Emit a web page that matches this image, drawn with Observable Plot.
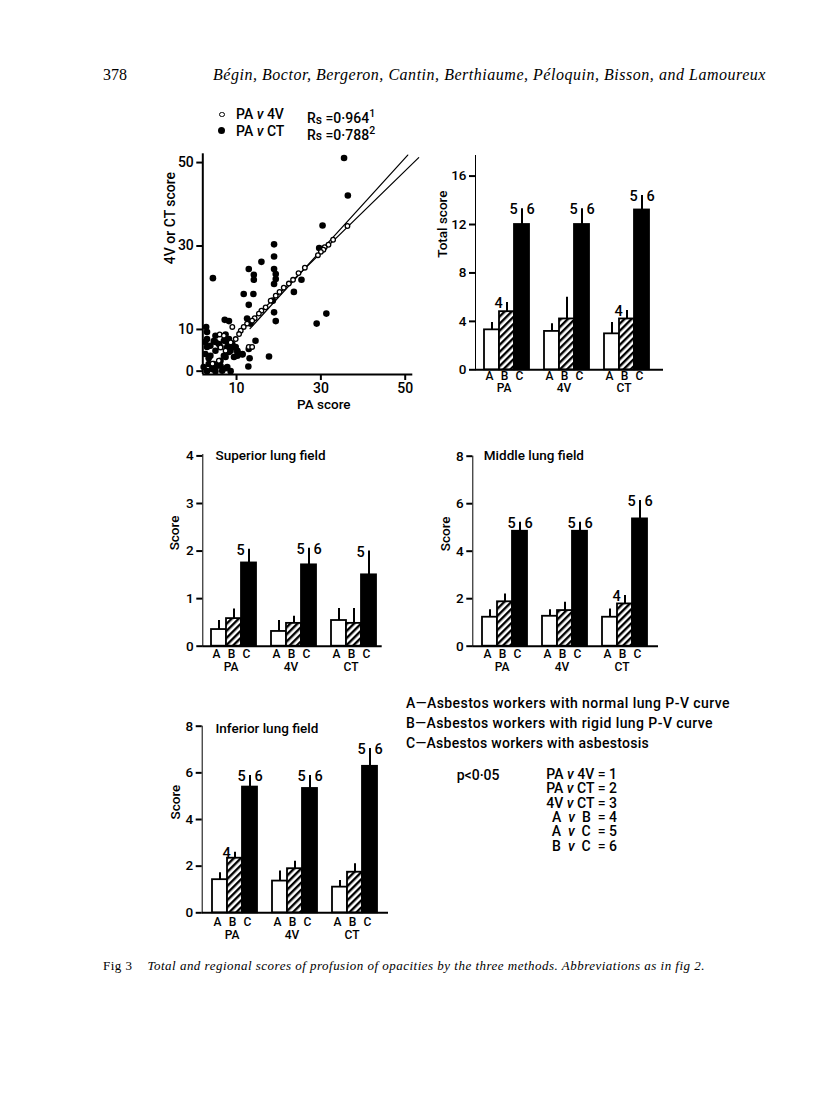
<!DOCTYPE html>
<html><head><meta charset="utf-8">
<script src="https://cdn.jsdelivr.net/npm/d3@7"></script>
<script src="https://cdn.jsdelivr.net/npm/@observablehq/plot@0.6"></script>
<style>
html,body{margin:0;padding:0;background:#fff;}
#fig{position:relative;width:816px;height:1107px;background:#fff;overflow:hidden;font-family:Roboto,"Liberation Sans",Arial,sans-serif;font-weight:500;color:#000;}
.abs{position:absolute;white-space:nowrap;}
.panel{position:absolute;}
.panel svg{overflow:visible;}
.panel g[aria-label^="x-axis"] line,.panel g[aria-label^="x-axis"] path,.panel g[aria-label^="y-axis"] line,.panel g[aria-label^="y-axis"] path{stroke-width:2px;}
.serif{font-family:"Liberation Serif","Times New Roman",serif;font-weight:normal;}
.sym{display:inline-block;position:absolute;border-radius:50%;box-sizing:border-box;}
.leg{font-size:14px;line-height:16px;}
</style></head><body>
<svg width="0" height="0" style="position:absolute">
  <defs>
    <pattern id="hatch" patternUnits="userSpaceOnUse" width="5" height="5" patternTransform="rotate(45)">
      <rect width="5" height="5" fill="white"></rect>
      <rect width="2.4" height="5" fill="black"></rect>
    </pattern>
  </defs>
</svg>
<div id="fig">
  <div class="abs serif" style="left:103px;top:67px;font-size:16px;line-height:16px;">378</div>
  <div class="abs serif" id="authors" style="left:213px;top:67px;font-size:16px;line-height:16px;font-style:italic;">Bégin, Boctor, Bergeron, Cantin, Berthiaume, Péloquin, Bisson, and Lamoureux</div>

  <div class="abs leg" style="left:0;top:106px;width:400px;height:16px;">
    <span class="sym" style="left:219px;top:5.5px;width:5.5px;height:5.5px;border:1.4px solid #000;"></span>
    <span class="abs" style="left:236px;">PA <i>v</i> 4V</span>
    <span class="abs" style="left:307px;">R<span style="font-size:12px;position:relative;top:1px;">s</span> =0·964<sup style="font-size:10.5px;">1</sup></span>
  </div>
  <div class="abs leg" style="left:0;top:122.7px;width:400px;height:16px;">
    <span class="sym" style="left:218px;top:4.5px;width:7px;height:7px;background:#000;"></span>
    <span class="abs" style="left:236px;">PA <i>v</i> CT</span>
    <span class="abs" style="left:307px;">R<span style="font-size:12px;position:relative;top:1px;">s</span> =0·788<sup style="font-size:10.5px;">2</sup></span>
  </div>

  <div class="abs leg" id="legA" style="left:406px;top:695.3px;">A—Asbestos workers with normal lung P-V curve</div>
  <div class="abs leg" id="legB" style="left:406px;top:715.3px;">B—Asbestos workers with rigid lung P-V curve</div>
  <div class="abs leg" id="legC" style="left:406px;top:735.3px;">C—Asbestos workers with asbestosis</div>

  <div class="abs leg" style="left:456.7px;top:767px;">p&lt;0·05</div>
  <div class="abs leg" style="left:480px;top:767px;width:137px;text-align:right;line-height:14.35px;">
    PA <i>v</i> 4V = 1<br>PA <i>v</i> CT = 2<br>4V <i>v</i> CT = 3<br>A&nbsp; <i>v</i>&nbsp; B&nbsp; = 4<br>A&nbsp; <i>v</i>&nbsp; C&nbsp; = 5<br>B&nbsp; <i>v</i>&nbsp; C&nbsp; = 6
  </div>

  <div class="abs serif" id="caption" style="left:103px;top:959px;font-size:13px;line-height:14px;">Fig 3&nbsp;&nbsp;&nbsp; <i>Total and regional scores of profusion of opacities by the three methods. Abbreviations as in fig 2.</i></div>
</div>
<script>
// ---------- data ----------
const methods = ["PA", "4V", "CT"];
const groups = ["A", "B", "C"];

// Scatter: PA score (x) vs 4V score (open circles) and vs CT score (filled)
const paVs4V = [[36.3,34.8],[32.9,31.5],[31.8,30.3],[30.9,29.7],[30.6,29.1],[30.0,28.6],[29.3,27.8],[26.2,24.8],[24.7,23.5],[23.4,21.9],[22.4,21.0],[21.2,20.0],[20.2,19.0],[19.3,18.1],[18.1,16.9],[16.9,15.3],[15.9,14.5],[15.3,13.8],[14.3,12.7],[13.7,12.1],[12.5,11.4],[11.7,10.6],[11.0,9.7],[10.6,8.9],[9.8,7.7],[9.0,10.6],[6.0,8.8],[7.0,8.5],[12.9,5.8],[13.7,5.8],[8.6,6.9],[7.4,4.9],[5.8,2.5],[4.3,1.8],[6.2,5.7]];
const paVsCT = [[35.5,51.1],[36.4,42.1],[30.4,34.9],[29.6,29.5],[18.9,30.4],[18.9,27.5],[15.9,26.2],[12.9,24.5],[14.1,23.1],[14.1,21.9],[18.9,24.5],[19.3,23.3],[19.3,22.1],[18.9,20.9],[4.4,22.3],[25.4,21.9],[23.6,19.0],[11.7,18.5],[14.0,18.5],[12.9,15.9],[18.6,16.9],[18.9,14.1],[19.3,12.0],[31.3,13.8],[29.0,11.4],[7.2,12.3],[8.2,12.0],[12.5,12.6],[13.3,11.4],[14.5,7.3],[12.9,5.3],[13.1,3.1],[17.7,3.5],[12.8,1.1],[2.8,10.6],[3.0,9.4],[2.6,7.0],[3.0,7.7],[3.0,5.8],[2.6,4.1],[3.8,3.7],[5.0,4.9],[5.8,6.5],[7.0,7.3],[7.8,5.8],[8.2,7.7],[9.0,6.5],[8.6,4.9],[9.8,5.8],[10.2,4.6],[11.4,4.1],[7.4,8.8],[5.0,8.5],[4.6,7.2],[3.4,1.7],[4.2,0.5],[5.4,1.3],[6.6,0.1],[7.8,1.0],[3.0,0],[2.2,1.0],[5.0,0],[8.6,0],[6.2,2.5],[7.4,3.4],[9.4,3.4],[3.8,6.1],[5.0,7.0],[6.2,5.8],[7.8,7.0],[9.0,5.8],[10.2,4.9],[8.2,4.6],[7.0,3.7],[10.2,3.7],[11.4,4.0],[4.6,1.7],[6.2,1.3],[7.4,0.7],[3.4,3.1]];
const fitLine4V = [[13.2,10.2],[50.6,51.8]];
const fitLineCT = [[11.6,10.2],[53.2,51.2]];
const scatterXTicks = [10, 30, 50];
const scatterYTicks = [0, 10, 30, 50];

// Bar panels: rows = PA, 4V, CT ; columns = A, B, C (mean and top of error bar)
const totalMean = [[3.3,4.8,12.0],[3.17,4.2,12.0],[2.97,4.2,13.2]];
const totalErr  = [[3.9,5.55,13.3],[3.8,6.0,13.3],[3.9,4.9,14.4]];
const totalSig  = [["PA","B","4",""],["PA","C","5","6"],["4V","C","5","6"],["CT","B","4",""],["CT","C","5","6"]];
const totalTicks = [0,4,8,12,16];

const superiorMean = [[0.35,0.58,1.75],[0.31,0.48,1.71],[0.54,0.48,1.5]];
const superiorErr  = [[0.54,0.78,2.04],[0.54,0.63,2.06],[0.79,0.79,2.0]];
const superiorSig  = [["PA","C","5",""],["4V","C","5","6"],["CT","C","5",""]];
const superiorTicks = [0,1,2,3,4];

const middleMean = [[1.22,1.87,4.84],[1.26,1.5,4.84],[1.22,1.78,5.36]];
const middleErr  = [[1.53,2.2,5.22],[1.53,1.85,5.22],[1.57,2.13,6.13]];
const middleSig  = [["PA","C","5","6"],["4V","C","5","6"],["CT","B","4",""],["CT","C","5","6"]];
const middleTicks = [0,2,4,6,8];

const inferiorMean = [[1.42,2.34,5.39],[1.36,1.89,5.33],[1.1,1.74,6.28]];
const inferiorErr  = [[1.72,2.6,5.89],[1.79,2.21,5.89],[1.39,2.1,7.04]];
const inferiorSig  = [["PA","B","4",""],["PA","C","5","6"],["4V","C","5","6"],["CT","C","5","6"]];
const inferiorTicks = [0,2,4,6,8];

// ---------- drawing ----------
const FONT = 'Roboto, "Liberation Sans", Arial, sans-serif';
const fig = document.getElementById("fig");
function place(node, left, top) {
  const d = document.createElement("div");
  d.className = "panel";
  d.style.left = left + "px";
  d.style.top = top + "px";
  d.appendChild(node);
  fig.appendChild(d);
}
const baseStyle = (fs) => ({background: "transparent", fontFamily: FONT, fontWeight: 500, fontSize: fs + "px", color: "black", overflow: "visible"});
const intFmt = d => String(d);

// Scatter
place(Plot.plot({
  width: 290, height: 320,
  marginLeft: 62.3, marginTop: 53.3, marginRight: 17.7, marginBottom: 46,
  style: baseStyle(14),
  x: {domain: [2, 51.8], ticks: scatterXTicks, tickFormat: intFmt, tickSize: 6, tickPadding: 3, label: null},
  y: {domain: [-0.8, 52.1], ticks: scatterYTicks, tickFormat: intFmt, tickSize: 6, tickPadding: 3, label: null},
  marks: [
    Plot.ruleX([2], {y1: -0.8, y2: 52.1, strokeWidth: 2}),
    Plot.ruleY([-0.8], {x1: 2, x2: 51.8, strokeWidth: 2}),
    Plot.line(fitLine4V, {x: d => d[0], y: d => d[1], stroke: "black", strokeWidth: 1.2}),
    Plot.line(fitLineCT, {x: d => d[0], y: d => d[1], stroke: "black", strokeWidth: 1.2}),
    Plot.dot(paVsCT, {x: d => d[0], y: d => d[1], r: 3.3, fill: "black", stroke: "none"}),
    Plot.dot(paVs4V, {x: d => d[0], y: d => d[1], r: 2.3, fill: "white", stroke: "black", strokeWidth: 1.3}),
    Plot.text(["4V or CT score"], {text: d => d, frameAnchor: "left", dx: -32, rotate: -90, fontSize: 14}),
    Plot.text(["PA score"], {text: d => d, frameAnchor: "bottom", dx: 16, dy: 34, fontSize: 13.5})
  ]
}), 140, 100);

function barPanel(o) {
  const rows = methods.flatMap((m, i) => groups.map((g, j) => ({method: m, group: g, key: m + " " + g, mean: o.mean[i][j], err: o.err[i][j]})));
  const domain = methods.flatMap((m, i) => [...(i ? ["gap" + i] : []), ...groups.map(g => m + " " + g)]);
  const byKey = new Map(rows.map(d => [d.key, d]));
  const sig = o.sig.map(([m, g, l, r]) => ({key: m + " " + g, err: byKey.get(m + " " + g).err, l, r}));
  const marks = [
    Plot.ruleY([0], {strokeWidth: 2}),
    Plot.barY(rows.filter(d => d.group === "A"), {x: "key", y: "mean", fill: "white", stroke: "black", strokeWidth: 1.8}),
    Plot.barY(rows.filter(d => d.group === "B"), {x: "key", y: "mean", fill: "url(#hatch)", stroke: "black", strokeWidth: 1.8}),
    Plot.barY(rows.filter(d => d.group === "C"), {x: "key", y: "mean", fill: "black", stroke: "black", strokeWidth: 1.8}),
    Plot.ruleX(rows, {x: "key", y1: "mean", y2: "err", strokeWidth: 2}),
    Plot.text(sig.filter(d => d.l), {x: "key", y: "err", text: "l", dx: -8.5, dy: 1, fontSize: 14.5}),
    Plot.text(sig.filter(d => d.r), {x: "key", y: "err", text: "r", dx: 8.5, dy: 1, fontSize: 14.5}),
    Plot.text(rows, {x: "key", text: "group", frameAnchor: "bottom", dx: -2.5, dy: o.abcDy, fontSize: 12}),
    Plot.text(rows.filter(d => d.group === "B"), {x: "key", text: "method", frameAnchor: "bottom", dx: -3, dy: o.methDy, fontSize: 12}),
    Plot.text([o.ylabel], {text: d => d, frameAnchor: "left", dx: o.ylabelDx, dy: o.ylabelDy || 0, rotate: -90, fontSize: 13.5})
  ];
  if (o.title) marks.push(Plot.text([o.title], {text: d => d, frameAnchor: "top-left", textAnchor: "start", dx: o.titleDx, dy: o.titleDy, fontSize: 13.5}));
  place(Plot.plot({
    width: o.width, height: o.height,
    marginLeft: o.mL, marginTop: o.mT, marginRight: o.mR, marginBottom: o.mB,
    style: baseStyle(13.5),
    x: {type: "band", domain, range: o.xr, padding: 0, axis: null},
    y: {domain: o.yDomain, ticks: o.ticks, tickFormat: intFmt, tickSize: 6, tickPadding: 3, line: true, label: null},
    marks
  }), o.left, o.top);
}

barPanel({mean: totalMean, err: totalErr, sig: totalSig, ticks: totalTicks, yDomain: [0, 17.7],
  left: 420, top: 140, width: 260, height: 270, mL: 55, mT: 15, mR: 17, mB: 40.7, xr: [61.7, 231],
  ylabel: "Total score", ylabelDx: -33.3, ylabelDy: -5, abcDy: 10, methDy: 22.5});
barPanel({mean: superiorMean, err: superiorErr, sig: superiorSig, ticks: superiorTicks, yDomain: [0, 4.03],
  left: 150, top: 430, width: 250, height: 260, mL: 52.3, mT: 24, mR: 18.3, mB: 44.3, xr: [60, 227.3],
  ylabel: "Score", ylabelDx: -28, title: "Superior lung field", titleDx: 12.7, titleDy: -4, abcDy: 12, methDy: 25});
barPanel({mean: middleMean, err: middleErr, sig: middleSig, ticks: middleTicks, yDomain: [0, 8],
  left: 420, top: 430, width: 260, height: 260, mL: 52.3, mT: 25.7, mR: 22, mB: 44.3, xr: [60, 229],
  ylabel: "Score", ylabelDx: -27.3, title: "Middle lung field", titleDx: 11, titleDy: -5.7, abcDy: 12, methDy: 25});
barPanel({mean: inferiorMean, err: inferiorErr, sig: inferiorSig, ticks: inferiorTicks, yDomain: [0, 8],
  left: 150, top: 700, width: 250, height: 260, mL: 51.7, mT: 25.7, mR: 12, mB: 47.7, xr: [60.7, 228.3],
  ylabel: "Score", ylabelDx: -26.7, title: "Inferior lung field", titleDx: 13.3, titleDy: -3, abcDy: 13.5, methDy: 26.5});

// fit a few text lines to the widths they occupy in the reference
function fitWidth(id, target) {
  const el = document.getElementById(id);
  const w = el.getBoundingClientRect().width;
  const n = el.textContent.length;
  el.style.letterSpacing = ((target - w) / n) + "px";
}
fitWidth("authors", 553);
fitWidth("caption", 602);
fitWidth("legA", 324);
fitWidth("legB", 307);
fitWidth("legC", 243);
</script>
</body></html>
